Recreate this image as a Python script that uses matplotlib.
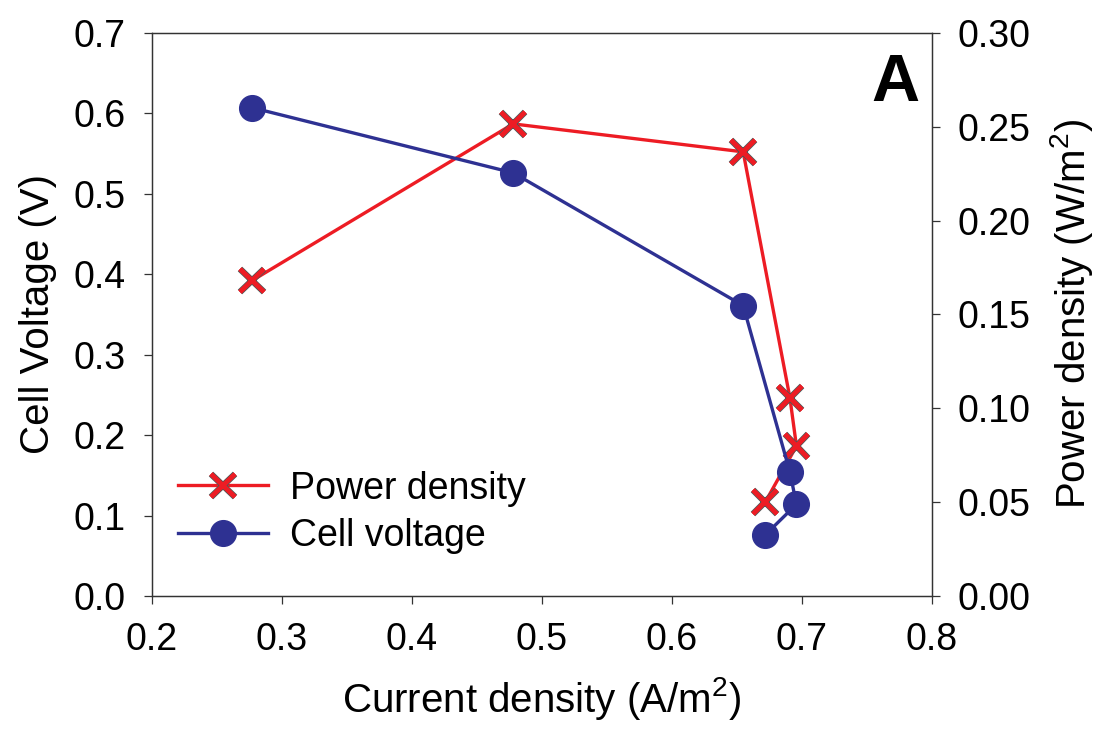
import matplotlib.pyplot as plt
import matplotlib.patheffects as pe

plt.rcParams['font.family'] = ['Liberation Sans', 'DejaVu Sans']
plt.rcParams['mathtext.default'] = 'regular'

# data
current = [0.277, 0.478, 0.655, 0.691, 0.696, 0.672]
voltage = [0.607, 0.526, 0.361, 0.154, 0.114, 0.076]
power = [0.168, 0.2515, 0.2366, 0.1055, 0.0799, 0.050]

red = '#ED1C24'
blue = '#2E3192'
spine_col = '#333333'

fig = plt.figure(figsize=(11.17, 7.46), dpi=100)
ax = fig.add_axes([0.136, 0.201, 0.698, 0.755])
ax2 = ax.twinx()

# power density on the right axis (drawn underneath)
ln_p, = ax2.plot(current, power, color=red, lw=2.4)
mk_p, = ax2.plot(current, power, ls='none', marker='x', ms=17, mew=3.2,
                 color=red)
mk_p.set_path_effects([pe.withStroke(linewidth=4.6, foreground='#555555'),
                       pe.Normal()])
# cell voltage on the left axis
ln_v, = ax.plot(current, voltage, color=blue, lw=2.4, marker='o', ms=18.5,
                mfc=blue, mec=blue)

ax.set_zorder(ax2.get_zorder() + 1)
ax.patch.set_visible(False)

ax.set_xlim(0.2, 0.8)
ax.set_ylim(0.0, 0.7)
ax2.set_ylim(0.0, 0.30)
ax.set_xticks([0.2, 0.3, 0.4, 0.5, 0.6, 0.7, 0.8])
ax.set_yticks([0.0, 0.1, 0.2, 0.3, 0.4, 0.5, 0.6, 0.7])
ax2.set_yticks([0.0, 0.05, 0.10, 0.15, 0.20, 0.25, 0.30])
ax.set_xticklabels(['%.1f' % v for v in ax.get_xticks()])
ax.set_yticklabels(['%.1f' % v for v in ax.get_yticks()])
ax2.set_yticklabels(['%.2f' % v for v in ax2.get_yticks()])

for a in (ax, ax2):
    for s in a.spines.values():
        s.set_color(spine_col)
        s.set_linewidth(0.9)
    a.tick_params(direction='out', length=6, width=0.9, color=spine_col,
                  labelsize=27, pad=13)

ax.set_xlabel('Current density (A/m$^2$)', fontsize=29, labelpad=12)
ax.set_ylabel('Cell Voltage (V)', fontsize=29, labelpad=12)
ax2.set_ylabel('Power density (W/m$^2$)', fontsize=29, labelpad=12)

ax.text(0.985, 0.965, 'A', transform=ax.transAxes, fontsize=48,
        fontweight='bold', ha='right', va='top')

ax.legend([(ln_p, mk_p), ln_v], ['Power density', 'Cell voltage'],
          loc='lower left', bbox_to_anchor=(-0.01, 0.015), frameon=False,
          fontsize=27, handlelength=2.4, handletextpad=0.6, labelspacing=0.3)

fig.savefig('out.png', dpi=100)
